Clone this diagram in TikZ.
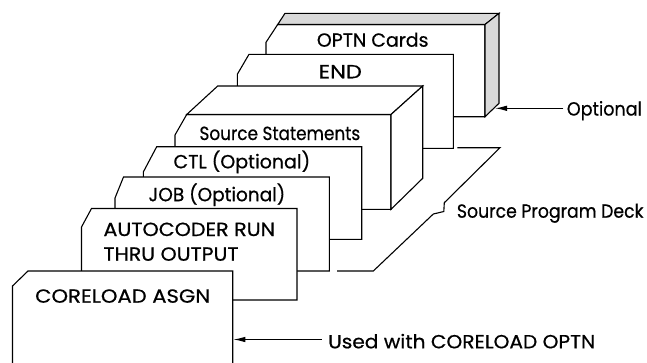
\documentclass[tikz,border=0pt]{standalone}
\usepackage{fontspec}
\setmainfont{Poppins}[FakeBold=0.6]
\usetikzlibrary{arrows.meta}
\newcommand{\fitw}[2]{\resizebox{#1pt}{\height}{#2}}
\begin{document}
\begin{tikzpicture}[x=1pt,y=-1pt,
  card/.style={draw=black, fill=white, line width=1.1pt, line join=miter},
  shadeface/.style={draw=black, fill=black!15, line width=1.1pt, line join=miter},
  plain/.style={draw=black, line width=1.1pt},
  lbl/.style={anchor=base west, inner sep=0pt, font=\fontsize{19}{19}\selectfont},
  arr/.style={line width=1.1pt, -{Latex[length=12pt,width=5.5pt]}}]
\useasboundingbox (0,0) rectangle (647,362);
% OPTN cards box
\draw[card] (266,116.7) -- (266,42.3) -- (277.7,24.5) -- (485,24.5) -- (485,116.7) -- cycle;
\draw[shadeface] (277.7,24.5) -- (285,13.3) -- (499,13.3) -- (485,24.5) -- cycle;
\draw[shadeface] (485,24.5) -- (499,13.3) -- (499,103.3) -- (485,116.7) -- cycle;
% END card
\draw[card] (237.3,148.3) -- (237.3,74.3) -- (249,54.3) -- (453.3,54.3) -- (453.3,148.3) -- cycle;
% Source statements box
\draw[card] (175,209.3) -- (175,135) -- (186.7,114.5) -- (391,114.5) -- (391,209.3) -- cycle;
\draw[card] (186.7,114.5) -- (217.7,86) -- (422.7,86) -- (391,114.5) -- cycle;
\draw[card] (391,114.5) -- (422.7,86) -- (422.7,178.3) -- (391,209.3) -- cycle;
% CTL card
\draw[card] (143.3,239.3) -- (143.3,172) -- (156.7,146.7) -- (361.7,146.7) -- (361.7,239.3) -- cycle;
% JOB card
\draw[card] (115,271) -- (115,198) -- (123.5,177) -- (329.3,177) -- (329.3,271) -- cycle;
% AUTOCODER card
\draw[card] (81.5,300) -- (81.5,227) -- (91.5,208.5) -- (297,208.5) -- (297,300) -- cycle;
% CORELOAD card
\draw[card] (12.5,372) -- (12.5,286) -- (28,271) -- (232.7,271) -- (232.7,372) -- cycle;
% Source program deck bracket
\draw[plain, line join=miter] (457.3,147.7) -- (500,147.7) -- (444.3,202.7) -- (443.8,211.5) -- (433.3,214) -- (373.3,271) -- (337,271);
% card labels
\node[lbl] (optn) at (316.7,46.7) {\fitw{111.6}{OPTN Cards}};
\node[lbl] (endl) at (318.3,78.3) {\fitw{43.4}{END}};
\node[lbl] (srcs) at (199.3,140) {\fitw{160.7}{Source Statements}};
\node[lbl] (ctl) at (173.3,168.3) {\fitw{136.7}{CTL (Optional)}};
\node[lbl] (job) at (148.3,201.2) {\fitw{136.7}{JOB (Optional)}};
\node[lbl] (auto1) at (103.3,236) {\fitw{171.7}{AUTOCODER RUN}};
\node[lbl] (auto2) at (103.3,260.7) {\fitw{135}{THRU OUTPUT}};
\node[lbl] (core) at (35,302.7) {\fitw{175}{CORELOAD ASGN}};
% side labels
\node[lbl, inner xsep=3.4pt] (optl) at (563.3,115.5) {\fitw{75}{Optional}};
\node[lbl] (spd) at (456.7,217.7) {\fitw{186.6}{Source Program Deck}};
\node[lbl, inner xsep=6.3pt] (used) at (321.7,348.3) {\fitw{267}{Used with CORELOAD OPTN}};
\coordinate (optTip) at (495,108.3);
\coordinate (usedTip) at (233.3,339.5);
\draw[arr] (optl.west |- optTip) -- (optTip);
\draw[arr] (used.west |- usedTip) -- (usedTip);
\end{tikzpicture}
\end{document}
